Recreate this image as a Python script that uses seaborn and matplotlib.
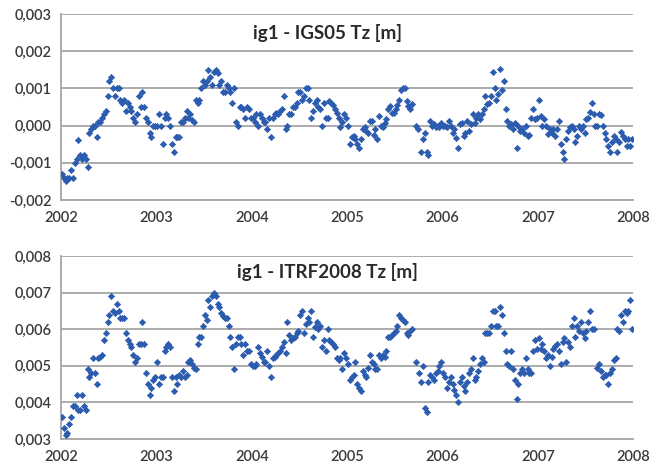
import numpy as np
import pandas as pd
import matplotlib
matplotlib.use("Agg")
import matplotlib.pyplot as plt
from matplotlib.ticker import FuncFormatter, FixedLocator
import seaborn as sns

nan = np.nan

# Weekly Tz translation estimates of the ig1 solution, in millimetres (one list per year, 52 weeks)
igs05_2002 = [-1.3, -1.4, -1.5, -1.4, -1.4, -1.2, -1.4, -1.0, -0.9, -0.4, -0.8, -0.9, -0.8, -0.9, -1.1,
              -0.2, -0.1, 0.0, 0.0, -0.3, 0.1, 0.1, 0.2, 0.3, 0.4, 0.8, 1.2, 1.3, 1.0, 0.8, 1.0, 1.0,
              0.7, 0.6, 0.7, 0.4, 0.6, 0.5, 0.4, 0.2, 0.1, 0.3, 0.8, 0.5, 0.9, 0.5, 0.2, 0.1, -0.2, -0.3,
              0.0, 0.0]
igs05_2003 = [0.0, 0.3, 0.0, -0.5, 0.2, 0.3, 0.2, 0.0, -0.5, -0.7, -0.3, -0.3, -0.3, 0.1, 0.1, 0.2,
              0.4, 0.2, 0.3, 0.15, 0.1, 0.7, 0.6, 0.7, 1.0, 1.2, 1.1, 1.2, 1.5, 1.3, 1.1, 1.45, 1.5, 1.4,
              1.1, 1.2, 0.9, 0.9, 1.1, 1.0, 0.9, 0.6, 1.0, 0.1, 0.0, 0.5, 0.5, 0.45, 0.2, 0.5, 0.45, 0.2]
igs05_2004 = [0.2, 0.1, 0.3, 0.0, 0.3, 0.2, 0.1, 0.1, -0.1, 0.2, -0.3, 0.2, 0.3, 0.35, 0.3, 0.4,
              0.45, 0.8, -0.1, 0.0, 0.3, 0.3, 0.5, 0.5, 0.6, 0.9, 0.9, 0.7, 0.8, 1.0, 1.0, 0.7, 0.2, 0.4,
              0.6, 0.7, 0.5, 0.45, 0.0, 0.6, 0.2, 0.2, 0.65, 0.6, 0.55, 0.45, 0.35, 0.2, -0.05, 0.1,
              0.3, 0.2]
igs05_2005 = [0.0, -0.5, -0.3, -0.28, -0.37, -0.5, -0.6, -0.37, -0.1, -0.05, -0.15, -0.2, 0.12, 0.12,
              -0.25, -0.1, -0.37, 0.25, 0.0, -0.05, 0.08, 0.17, 0.45, 0.53, 0.35, 0.35, 0.45, 0.55, 0.7,
              0.95, 1.0, 1.0, 0.67, 0.53, 0.45, 0.58, nan, 0.0, -0.1, nan, -0.7, -0.37, -0.2, -0.7, -0.8,
              0.12, 0.0, 0.05, -0.05, 0.0, -0.05, 0.08]
igs05_2006 = [0.0, 0.0, -0.05, 0.12, 0.0, -0.2, -0.1, -0.33, -0.6, 0.03, 0.08, -0.28, -0.2, 0.12, -0.15,
              0.03, 0.3, 0.08, 0.2, 0.3, 0.17, 0.3, 0.45, 0.8, 0.58, 0.62, 0.8, 1.43, 1.0, 0.7, 0.85,
              1.52, 0.95, 1.2, 0.45, 0.12, 0.0, 0.03, -0.08, 0.06, -0.6, 0.0, -0.15, -0.1, -0.2, 0.0,
              -0.28, -0.25, 0.2, 0.45, 0.17, 0.2]
igs05_2007 = [0.7, 0.25, 0.0, 0.17, 0.0, -0.23, -0.1, -0.2, -0.1, -0.28, -0.1, 0.12, -0.5, -0.7, -0.9,
              -0.37, -0.15, -0.05, 0.0, -0.1, -0.45, -0.28, 0.0, -0.1, 0.0, -0.2, 0.17, 0.2, 0.37, 0.62,
              0.3, 0.0, 0.0, 0.3, 0.28, 0.0, -0.2, -0.37, -0.55, -0.7, -0.45, -0.28, -0.37, -0.7, -0.45,
              -0.17, -0.28, -0.37, -0.55, -0.37, -0.55, -0.37]

itrf08_2002 = [3.6, 3.3, 3.1, 3.15, 3.4, 3.6, 3.9, 3.9, 4.2, 3.8, 3.8, 4.2, 3.9, 3.8, 4.9, 4.7, 4.8,
               5.2, 4.8, 4.5, 5.2, 5.25, 5.3, 5.7, 5.9, 6.2, 6.4, 6.9, 6.5, 6.45, 6.7, 6.5, 6.3, 6.3,
               6.3, 5.9, 5.7, 5.6, 5.5, 5.3, 5.1, 5.2, 5.6, 5.6, 6.2, 5.6, 4.8, 4.5, 4.2, 4.4, 4.6, 4.7]
itrf08_2003 = [5.1, 4.5, 4.7, 4.7, 5.4, 5.5, 5.6, 5.5, 4.7, 4.3, 4.7, 4.5, 4.75, 4.7, 4.85, 4.7, 4.75,
               5.1, 5.15, 5.05, 4.95, 4.9, 5.6, 5.8, 5.8, 6.1, 6.4, 6.25, 6.8, 6.6, 6.9, 7.0, 6.9, 6.7,
               6.6, 6.45, 6.35, 6.3, 6.3, 6.1, 5.8, 5.5, 4.9, 5.6, 5.8, 5.8, 5.6, 5.3, 5.6, 5.4, 5.4,
               5.05]
itrf08_2004 = [5.0, 5.0, 5.05, 5.5, 5.35, 5.25, 5.1, 5.1, 5.4, 5.0, 4.7, 5.2, 5.25, 5.3, 5.35, 5.4,
               5.5, 5.65, 5.35, 6.2, 5.85, 5.7, 5.75, 5.8, 5.9, 5.95, 6.4, 6.5, 5.9, 6.15, 6.3, 6.2, 6.5,
               5.8, 6.05, 6.2, 6.0, 6.1, 5.5, 5.7, 5.4, 6.0, 5.7, 5.65, 5.6, 5.5, 5.2, 5.15, 5.2, 4.9,
               5.35, 5.2]
itrf08_2005 = [5.05, 4.6, 4.7, 4.75, 5.1, 4.5, 4.4, 4.3, 4.85, 4.75, 4.7, 4.95, 5.3, 5.1, 5.05, 4.9,
               4.9, 5.3, 5.2, 5.3, 5.25, 5.4, 5.8, 5.8, 5.85, 5.9, 5.95, 6.1, 6.4, 6.3, 6.25, 6.2, 5.9,
               5.85, 5.95, 6.0, nan, 5.1, nan, 4.8, 4.55, 5.0, 3.85, 3.75, 4.55, 4.75, 4.7, 4.6, 4.8,
               4.85, 5.0, 5.1]
itrf08_2006 = [4.8, 4.7, 4.4, 4.55, 4.7, 4.5, 4.35, 4.2, 4.0, 4.55, 4.7, 4.45, 4.3, 4.55, 4.8, 4.9,
               5.2, 4.6, 4.7, 4.85, 5.05, 5.2, 5.1, 5.9, 5.9, 5.9, 6.1, 6.5, 6.5, 6.1, 6.1, 6.6, 6.4,
               5.9, 5.4, 5.05, 5.0, 5.4, 4.9, 4.6, 4.1, 4.5, 4.8, 4.9, 4.8, 5.2, 4.9, 4.8, 4.8, 5.4,
               5.7, 5.45]
itrf08_2007 = [5.75, 5.45, 5.6, 5.4, 5.2, 5.3, 5.0, 5.25, 5.45, 5.55, 5.6, 5.4, 5.05, 5.65, 5.75, 5.1,
               5.65, 5.5, 6.1, 6.3, 5.8, 6.1, 5.95, 6.2, 5.9, 5.75, 5.95, 6.2, 6.5, 6.0, 6.0, nan, 4.95,
               5.05, 4.85, 4.7, 4.75, 4.75, 4.5, 4.8, 4.9, 5.15, 5.2, 6.0, 5.95, 6.4, 6.2, 6.5, 6.45,
               6.5, 6.8, 6.0]

years = [2002, 2003, 2004, 2005, 2006, 2007]
year_labels = ["2002", "2003", "2004", "2005", "2006", "2007", "2008"]

panels = [
    ("ig1 - IGS05 Tz [m]",
     [igs05_2002, igs05_2003, igs05_2004, igs05_2005, igs05_2006, igs05_2007],
     [-0.002, -0.001, 0.0, 0.001, 0.002, 0.003]),
    ("ig1 - ITRF2008 Tz [m]",
     [itrf08_2002, itrf08_2003, itrf08_2004, itrf08_2005, itrf08_2006, itrf08_2007],
     [0.003, 0.004, 0.005, 0.006, 0.007, 0.008]),
]


def weekly_frame(per_year):
    rows = []
    for yr, vals in zip(years, per_year):
        for w, v in enumerate(vals):
            rows.append((yr + (w + 0.5) / 52.18, v / 1000.0))
    df = pd.DataFrame(rows, columns=["epoch", "tz"])
    return df.dropna()


sns.set_theme(style="white")
plt.rcParams["font.family"] = ["Lato", "DejaVu Sans"]

fig = plt.figure(figsize=(6.51, 4.69), dpi=100)
fig.patch.set_facecolor("white")

boxes = [[0.0937, 0.5736, 0.8791, 0.3966], [0.0937, 0.0640, 0.8791, 0.3902]]
titles_y = [0.90, 0.915]

grid_col = "#a6a6a6"
text_col = "#3a3a3a"
dot_col = "#2c5cb0"

comma = FuncFormatter(lambda v, p: f"{v:.3f}".replace(".", ","))

for (title, per_year, yticks), box, ty in zip(panels, boxes, titles_y):
    ax = fig.add_axes(box)
    df = weekly_frame(per_year)
    sns.scatterplot(data=df, x="epoch", y="tz", ax=ax, marker="D", s=10,
                    color=dot_col, edgecolor=dot_col, linewidth=0.5, zorder=3)
    ax.set_xlim(2002, 2008)
    ax.set_ylim(yticks[0], yticks[-1])
    ax.yaxis.set_major_locator(FixedLocator(yticks))
    ax.yaxis.set_major_formatter(comma)
    ax.set_xticks(range(2002, 2009))
    ax.set_xticklabels(year_labels)
    ax.set_xlabel("")
    ax.set_ylabel("")
    ax.grid(axis="y", color=grid_col, linewidth=1.3, zorder=0)
    ax.grid(axis="x", visible=False)
    for side in ("top", "right"):
        ax.spines[side].set_visible(False)
    for side in ("left", "bottom"):
        ax.spines[side].set_visible(True)
        ax.spines[side].set_color(grid_col)
        ax.spines[side].set_linewidth(1.3)
    ax.tick_params(axis="x", direction="out", length=4, width=1.0, color=grid_col,
                   labelsize=10.5, labelcolor=text_col, pad=4)
    ax.tick_params(axis="y", direction="out", length=4, width=1.0, color=grid_col,
                   labelsize=10.5, labelcolor=text_col, pad=3)
    for lab in ax.get_xticklabels() + ax.get_yticklabels():
        lab.set_fontweight("semibold")
    ax.text(0.465, ty, title, transform=ax.transAxes, ha="center", va="center",
            fontsize=13.5, fontweight="bold", color="#2a2a2a")
    ax.set_facecolor("white")

fig.savefig("out.png", dpi=100, facecolor="white")
